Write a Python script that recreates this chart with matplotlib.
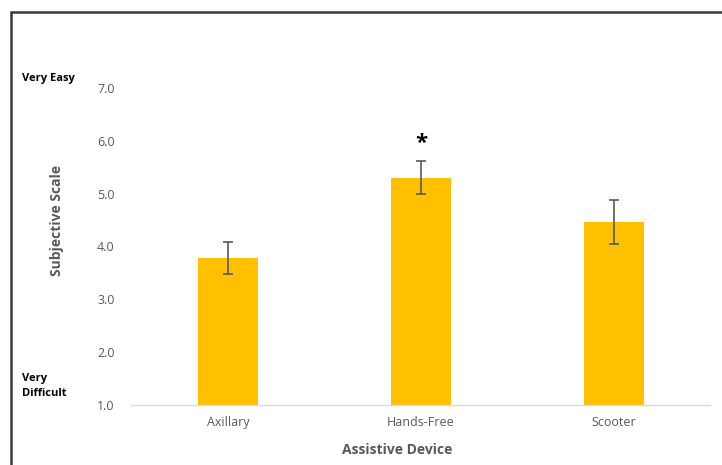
import matplotlib.pyplot as plt
from matplotlib.patches import Rectangle

devices = ['Axillary', 'Hands-Free', 'Scooter']
means = [3.78, 5.30, 4.46]
errors = [0.31, 0.31, 0.41]
yticks = [1.0, 2.0, 3.0, 4.0, 5.0, 6.0, 7.0]

plt.rcParams['font.family'] = ['Open Sans', 'DejaVu Sans']
gray = '#595959'

fig = plt.figure(figsize=(7.22, 4.65), dpi=100)
ax = fig.add_axes([0.182, 0.129, 0.802, 0.682])

ax.bar(devices, means, width=0.315, color='#FFC000', zorder=2)
ax.errorbar(devices, means, yerr=errors, fmt='none', ecolor=gray,
            elinewidth=1.2, capsize=3.5, capthick=1.2, zorder=3)

# significance marker above Hands-Free
ax.text(1, means[1] + errors[1] + 0.33, '*', ha='center', va='center',
        fontsize=16, fontweight='bold', color='black')

ax.set_ylim(1, 7)
ax.set_xlim(-0.5, 2.5)
ax.set_yticks(yticks)
ax.set_yticklabels([f'{t:.1f}' for t in yticks])
ax.tick_params(axis='both', length=0, labelsize=9, colors=gray, pad=8)
ax.tick_params(axis='y', pad=12)

for side in ['top', 'right', 'left']:
    ax.spines[side].set_visible(False)
ax.spines['bottom'].set_color('#d9d9d9')
ax.spines['bottom'].set_linewidth(1)

fig.text(397 / 722, 1 - 450 / 465, 'Assistive Device', ha='center', va='center',
         fontsize=10, fontweight='bold', color=gray)
fig.text(57 / 722, 1 - 220 / 465, 'Subjective Scale', rotation=90, ha='center', va='center',
         fontsize=10, fontweight='bold', color=gray)

fig.text(22 / 722, 1 - 78 / 465, 'Very Easy', ha='left', va='center',
         fontsize=8, fontweight='bold', color='black')
fig.text(22 / 722, 1 - 386 / 465, 'Very\nDifficult', ha='left', va='center',
         fontsize=8, fontweight='bold', color='black', linespacing=1.4)

# outer frame
fig.add_artist(Rectangle((10.5 / 722, -0.05), 1.2, 1 - 12 / 465 + 0.05,
                         transform=fig.transFigure, fill=False,
                         edgecolor='#3a3a3a', linewidth=1.8))

fig.savefig('out.png', dpi=100)
